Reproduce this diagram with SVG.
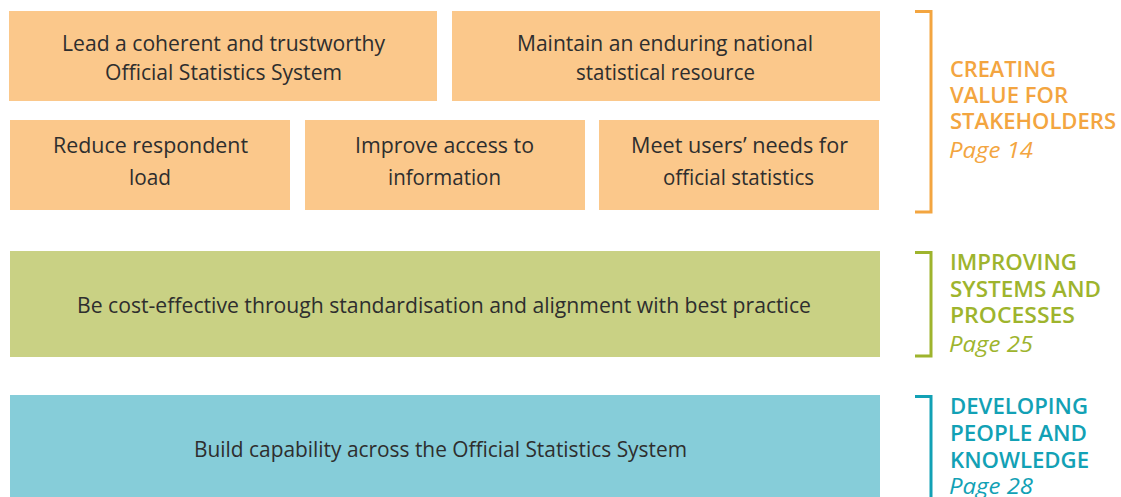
<svg xmlns="http://www.w3.org/2000/svg" width="1121" height="497" viewBox="0 0 1121 497">
<style>
.box-o{fill:#FBC88B}
.box-g{fill:#C9D184}
.box-b{fill:#86CDD9}
.t{font-family:"Open Sans","Liberation Sans",Arial,sans-serif;font-size:22px;fill:#2e2e2e;text-anchor:middle}
.h{font-family:"Open Sans","Liberation Sans",Arial,sans-serif;font-size:22px;font-weight:600}
.p{font-family:"Open Sans","Liberation Sans",Arial,sans-serif;font-size:22px;font-style:italic;font-weight:400}
.br{fill:none;stroke-width:3}
.o{fill:#F3A540}.g{fill:#9EB42D}.b{fill:#12A1B5}
</style>
<rect width="1121" height="497" fill="#ffffff"/>
<g id="node-lead">
<rect class="box-o" x="9" y="11" width="428" height="90"/>
<text class="t" x="223.5" y="51" textLength="323" lengthAdjust="spacingAndGlyphs">Lead a coherent and trustworthy</text>
<text class="t" x="223.5" y="80" textLength="237" lengthAdjust="spacingAndGlyphs">Official Statistics System</text>
</g>
<g id="node-maintain">
<rect class="box-o" x="452" y="11" width="428" height="90"/>
<text class="t" x="665" y="51" textLength="296" lengthAdjust="spacingAndGlyphs">Maintain an enduring national</text>
<text class="t" x="665.5" y="80" textLength="179" lengthAdjust="spacingAndGlyphs">statistical resource</text>
</g>
<g id="node-reduce">
<rect class="box-o" x="10" y="120" width="280" height="90"/>
<text class="t" x="150.5" y="153" textLength="195" lengthAdjust="spacingAndGlyphs">Reduce respondent</text>
<text class="t" x="150" y="185" textLength="42" lengthAdjust="spacingAndGlyphs">load</text>
</g>
<g id="node-improve">
<rect class="box-o" x="305" y="120" width="280" height="90"/>
<text class="t" x="444.5" y="153" textLength="179" lengthAdjust="spacingAndGlyphs">Improve access to</text>
<text class="t" x="444.5" y="185" textLength="113" lengthAdjust="spacingAndGlyphs">information</text>
</g>
<g id="node-meet">
<rect class="box-o" x="599" y="120" width="280" height="90"/>
<text class="t" x="739.5" y="153" textLength="217" lengthAdjust="spacingAndGlyphs">Meet users’ needs for</text>
<text class="t" x="738.5" y="185" textLength="151" lengthAdjust="spacingAndGlyphs">official statistics</text>
</g>
<g id="node-cost">
<rect class="box-g" x="10" y="251" width="870" height="106"/>
<text class="t" x="444" y="313" textLength="734" lengthAdjust="spacingAndGlyphs">Be cost-effective through standardisation and alignment with best practice</text>
</g>
<g id="node-build">
<rect class="box-b" x="10" y="395" width="870" height="102"/>
<text class="t" x="440.5" y="457" textLength="493" lengthAdjust="spacingAndGlyphs">Build capability across the Official Statistics System</text>
</g>
<g id="connectors">
<path class="br" stroke="#F3A540" d="M915 11.5H931V212H915"/>
<path class="br" stroke="#9EB42D" d="M915 252.5H931V356H915"/>
<path class="br" stroke="#12A1B5" d="M915 396.5H931V497"/>
</g>
<g id="label-value">
<text class="h o" x="950" y="77" textLength="106" lengthAdjust="spacingAndGlyphs">CREATING</text>
<text class="h o" x="950" y="103" textLength="118" lengthAdjust="spacingAndGlyphs">VALUE FOR</text>
<text class="h o" x="950" y="129" textLength="166" lengthAdjust="spacingAndGlyphs">STAKEHOLDERS</text>
<text class="p o" x="949" y="158" textLength="84" lengthAdjust="spacingAndGlyphs">Page 14</text>
</g>
<g id="label-systems">
<text class="h g" x="950" y="270" textLength="127" lengthAdjust="spacingAndGlyphs">IMPROVING</text>
<text class="h g" x="950" y="297" textLength="151" lengthAdjust="spacingAndGlyphs">SYSTEMS AND</text>
<text class="h g" x="950" y="323" textLength="125" lengthAdjust="spacingAndGlyphs">PROCESSES</text>
<text class="p g" x="949" y="352" textLength="84" lengthAdjust="spacingAndGlyphs">Page 25</text>
</g>
<g id="label-people">
<text class="h b" x="950" y="414" textLength="138" lengthAdjust="spacingAndGlyphs">DEVELOPING</text>
<text class="h b" x="950" y="441" textLength="137" lengthAdjust="spacingAndGlyphs">PEOPLE AND</text>
<text class="h b" x="950" y="468" textLength="139" lengthAdjust="spacingAndGlyphs">KNOWLEDGE</text>
<text class="p b" x="949" y="494" textLength="84" lengthAdjust="spacingAndGlyphs">Page 28</text>
</g>
</svg>
